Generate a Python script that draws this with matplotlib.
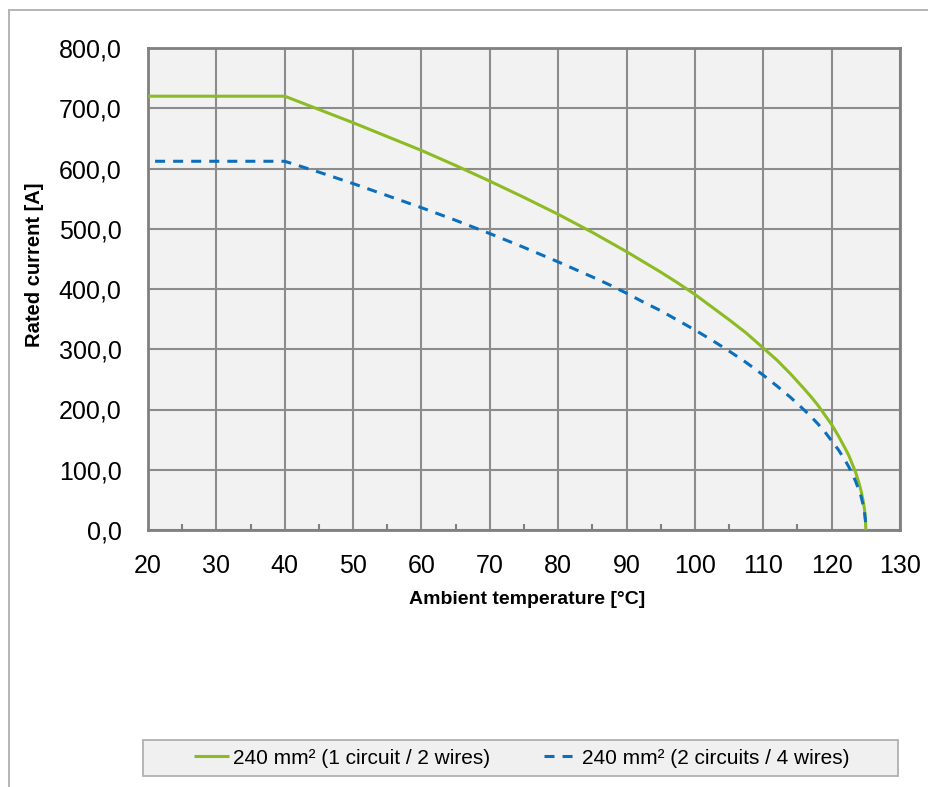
import matplotlib
matplotlib.use("Agg")
import matplotlib.pyplot as plt
from matplotlib.lines import Line2D
from matplotlib.patches import Rectangle
from matplotlib.ticker import FuncFormatter, MultipleLocator

plt.rcParams["font.family"] = ["Liberation Sans", "DejaVu Sans"]
plt.rcParams["lines.scale_dashes"] = False

# ambient temperature [°C] and rated current [A]
temp = [20, 30, 40, 45, 50, 55, 60, 65, 70, 75, 80, 85,
        87.5, 90, 92.5, 95, 97.5, 100, 102.5, 105, 107.5, 110,
        112, 114, 116, 117, 118, 119, 120, 121, 122,
        122.5, 123, 123.5, 124, 124.3, 124.6, 124.8, 124.95, 125]
current_2w = [720, 720, 720, 698, 676, 653, 630, 605, 579, 552, 524, 494,
              478, 462, 445, 428, 410, 391, 370, 349, 327, 302,
              282, 259, 234, 221, 207, 191, 175, 156, 135,
              124, 110, 96, 78, 65, 49, 35, 17, 0]
current_4w = [612, 612, 612, 594, 575, 555, 535, 514, 492, 469, 445, 420,
              407, 393, 378, 364, 348, 332, 315, 297, 278, 257,
              239, 220, 199, 188, 176, 163, 148, 133, 115,
              105, 94, 81, 66, 56, 42, 30, 15, 0]

label_2w = "240 mm² (1 circuit / 2 wires)"
label_4w = "240 mm² (2 circuits / 4 wires)"

GREEN = "#8cbb24"
BLUE = "#0b6fbd"

W, H = 929, 787
fig = plt.figure(figsize=(W / 100, H / 100), dpi=100)

# outer frame of the chart (only top and left edges are visible)
fig.add_artist(Line2D([9.5 / W, 1], [1 - 10 / H] * 2, transform=fig.transFigure,
                      color="#b4b4b4", lw=1.4))
fig.add_artist(Line2D([9.5 / W] * 2, [0, 1 - 10 / H], transform=fig.transFigure,
                      color="#b4b4b4", lw=1.4))

ax = fig.add_axes([148 / W, 1 - 530 / H, 752 / W, 482 / H])
ax.set_facecolor("#f2f2f2")

ax.plot(temp, current_2w, color=GREEN, lw=2.2, solid_capstyle="butt",
        solid_joinstyle="round", zorder=3)
ax.plot(temp, current_4w, color=BLUE, lw=2.2,
        linestyle=(7.9, (7.2, 5.8)), dash_capstyle="butt", zorder=3)

ax.set_xlim(20, 130)
ax.set_ylim(0, 800)
ax.xaxis.set_major_locator(MultipleLocator(10))
ax.xaxis.set_minor_locator(MultipleLocator(5))
ax.yaxis.set_major_locator(MultipleLocator(100))
ax.yaxis.set_major_formatter(FuncFormatter(lambda v, p: f"{v:.1f}".replace(".", ",")))

ax.grid(True, which="major", color="#8c8c8c", lw=1.5, zorder=1)
ax.set_axisbelow(True)
for s in ax.spines.values():
    s.set_color("#808080")
    s.set_linewidth(2)

ax.tick_params(axis="both", which="major", length=0, labelsize=18, colors="black")
ax.tick_params(axis="x", which="major", pad=17)
ax.tick_params(axis="y", which="major", pad=19)
ax.tick_params(axis="x", which="minor", direction="in", length=4.5, width=1.5,
               color="#808080")
ax.tick_params(axis="y", which="minor", length=0)

fig.text(527 / W, 1 - 599 / H, "Ambient temperature [°C]", ha="center",
         va="center", fontsize=14, fontweight="bold")
fig.text(35 / W, 1 - 265 / H, "Rated current [A]", ha="center", va="center",
         rotation=90, fontsize=14.5, fontweight="bold")

# legend box at the bottom
fig.add_artist(Rectangle((143 / W, 1 - 776 / H), 755 / W, 36 / H,
                         transform=fig.transFigure, facecolor="#f0f0f0",
                         edgecolor="#b0b0b0", lw=1.3))
handles = [Line2D([], [], color=GREEN, lw=2.2, solid_capstyle="butt"),
           Line2D([], [], color=BLUE, lw=2.2, linestyle=(0, (7.2, 5.8)),
                  dash_capstyle="butt")]
fig.legend(handles, [label_2w, label_4w], loc="center",
           bbox_to_anchor=(522 / W, 1 - 758 / H), ncol=2, frameon=False,
           fontsize=15, handlelength=1.7, handletextpad=0.15, columnspacing=2.6)

fig.savefig("out.png", dpi=100)
